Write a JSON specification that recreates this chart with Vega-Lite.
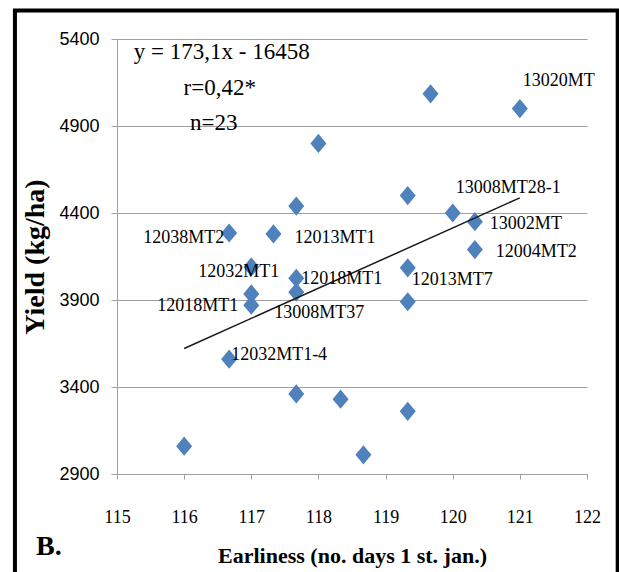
{
  "$schema": "https://vega.github.io/schema/vega-lite/v6.json",
  "width": 470,
  "height": 435,
  "autosize": {"type": "none"},
  "padding": {"left": 117, "top": 39, "right": 32, "bottom": 98},
  "background": "white",
  "config": {"view": {"stroke": null}},
  "title": {
    "text": "B.",
    "orient": "bottom",
    "anchor": "start",
    "frame": "group",
    "align": "left",
    "dx": -81,
    "offset": -47,
    "font": "Liberation Serif",
    "fontSize": 28,
    "fontWeight": "bold",
    "color": "black"
  },
  "datasets": {
    "pts": [
      {"days": 116, "yield": 3060, "label": ""},
      {"days": 117.67, "yield": 3360, "label": ""},
      {"days": 118.33, "yield": 3330, "label": ""},
      {"days": 118.67, "yield": 3010, "label": ""},
      {"days": 119.33, "yield": 3260, "label": ""},
      {"days": 117.67, "yield": 4440, "label": ""},
      {"days": 116.67, "yield": 4285, "label": "12038MT2"},
      {"days": 117.33, "yield": 4280, "label": "12013MT1"},
      {"days": 117, "yield": 4090, "label": "12032MT1"},
      {"days": 117, "yield": 3935, "label": ""},
      {"days": 117, "yield": 3870, "label": "12018MT1"},
      {"days": 117.67, "yield": 4025, "label": "12018MT1"},
      {"days": 117.67, "yield": 3945, "label": "13008MT37"},
      {"days": 116.67, "yield": 3560, "label": "12032MT1-4"},
      {"days": 119.33, "yield": 4500, "label": ""},
      {"days": 120, "yield": 4400, "label": "13008MT28-1"},
      {"days": 120.33, "yield": 4350, "label": "13002MT"},
      {"days": 120.33, "yield": 4190, "label": "12004MT2"},
      {"days": 119.33, "yield": 4085, "label": "12013MT7"},
      {"days": 119.33, "yield": 3890, "label": ""},
      {"days": 119.67, "yield": 5085, "label": ""},
      {"days": 121, "yield": 5000, "label": "13020MT"},
      {"days": 118, "yield": 4800, "label": ""}
    ],
    "trend": [
      {"days": 116, "yield": 3621.6},
      {"days": 121, "yield": 4487.1}
    ],
    "one": [{"k": 1}]
  },
  "layer": [
    {
      "data": {"name": "pts"},
      "mark": {"type": "point", "shape": "M0,-1.2L1,0L0,1.2L-1,0Z", "filled": true, "color": "#4F81BD", "opacity": 1, "size": 256},
      "encoding": {
        "x": {
          "field": "days",
          "type": "quantitative",
          "scale": {"domain": [115, 122], "nice": false, "zero": false},
          "axis": {
            "title": "Earliness (no. days 1 st. jan.)",
            "titleFont": "Liberation Serif",
            "titleFontSize": 22,
            "titleFontWeight": "bold",
            "titleColor": "black",
            "titleX": 235,
            "titleY": 81,
            "titleBaseline": "middle",
            "values": [115, 116, 117, 118, 119, 120, 121, 122],
            "format": "d",
            "grid": false,
            "domainColor": "#a0a0a0",
            "tickColor": "#a0a0a0",
            "tickSize": 5,
            "labelFont": "Liberation Serif",
            "labelFontSize": 18,
            "labelColor": "black",
            "labelPadding": 29,
            "labelFlush": false
          }
        },
        "y": {
          "field": "yield",
          "type": "quantitative",
          "scale": {"domain": [2900, 5400], "nice": false, "zero": false},
          "axis": {
            "title": "Yield (kg/ha)",
            "titleFont": "Liberation Serif",
            "titleFontSize": 28,
            "titleFontWeight": "bold",
            "titleColor": "black",
            "titleX": -82,
            "titleY": 217.5,
            "titleBaseline": "middle",
            "titleAlign": "center",
            "titleAngle": -90,
            "values": [2900, 3400, 3900, 4400, 4900, 5400],
            "format": "d",
            "grid": true,
            "gridColor": "#a0a0a0",
            "gridWidth": 1,
            "domainColor": "#a0a0a0",
            "tickColor": "#a0a0a0",
            "tickSize": 6,
            "labelFont": "Liberation Sans Narrow, Liberation Sans, sans-serif",
            "labelFontSize": 18,
            "labelColor": "black",
            "labelPadding": 12,
            "labelFlush": false
          }
        }
      }
    },
    {
      "data": {"name": "one"},
      "mark": {"type": "rect", "filled": false, "stroke": "black", "strokeWidth": 4, "clip": false},
      "encoding": {
        "x": {"datum": 113.48, "type": "quantitative"},
        "x2": {"datum": 122.457},
        "y": {"datum": 5564, "type": "quantitative"},
        "y2": {"datum": 2300}
      }
    },
    {
      "data": {"name": "trend"},
      "mark": {"type": "line", "color": "#1a1a1a", "strokeWidth": 1.5},
      "encoding": {
        "x": {"field": "days", "type": "quantitative"},
        "y": {"field": "yield", "type": "quantitative"}
      }
    },
    {
      "data": {"name": "one"},
      "mark": {"type": "text", "text": "y = 173,1x - 16458", "font": "Liberation Serif", "fontSize": 23, "color": "black", "align": "center", "baseline": "middle"},
      "encoding": {"x": {"datum": 116.56, "type": "quantitative"}, "y": {"datum": 5325, "type": "quantitative"}}
    },
    {
      "data": {"name": "one"},
      "mark": {"type": "text", "text": "r=0,42*", "font": "Liberation Serif", "fontSize": 23, "color": "black", "align": "center", "baseline": "middle"},
      "encoding": {"x": {"datum": 116.53, "type": "quantitative"}, "y": {"datum": 5118, "type": "quantitative"}}
    },
    {
      "data": {"name": "one"},
      "mark": {"type": "text", "text": "n=23", "font": "Liberation Serif", "fontSize": 23, "color": "black", "align": "center", "baseline": "middle"},
      "encoding": {"x": {"datum": 116.44, "type": "quantitative"}, "y": {"datum": 4917, "type": "quantitative"}}
    },
    {
      "data": {"name": "pts"},
      "transform": [{"filter": "datum.label === '13020MT'"}],
      "mark": {"type": "text", "align": "left", "baseline": "middle", "dx": 3, "dy": -28, "font": "Liberation Serif", "fontSize": 18, "color": "black"},
      "encoding": {"x": {"field": "days", "type": "quantitative"}, "y": {"field": "yield", "type": "quantitative"}, "text": {"field": "label"}}
    },
    {
      "data": {"name": "pts"},
      "transform": [{"filter": "datum.label === '13008MT28-1'"}],
      "mark": {"type": "text", "align": "left", "baseline": "middle", "dx": 3, "dy": -25, "font": "Liberation Serif", "fontSize": 18, "color": "black"},
      "encoding": {"x": {"field": "days", "type": "quantitative"}, "y": {"field": "yield", "type": "quantitative"}, "text": {"field": "label"}}
    },
    {
      "data": {"name": "pts"},
      "transform": [{"filter": "datum.label === '13002MT'"}],
      "mark": {"type": "text", "align": "left", "baseline": "middle", "dx": 15, "dy": 2, "font": "Liberation Serif", "fontSize": 18, "color": "black"},
      "encoding": {"x": {"field": "days", "type": "quantitative"}, "y": {"field": "yield", "type": "quantitative"}, "text": {"field": "label"}}
    },
    {
      "data": {"name": "pts"},
      "transform": [{"filter": "datum.label === '12004MT2'"}],
      "mark": {"type": "text", "align": "left", "baseline": "middle", "dx": 21, "dy": 2, "font": "Liberation Serif", "fontSize": 18, "color": "black"},
      "encoding": {"x": {"field": "days", "type": "quantitative"}, "y": {"field": "yield", "type": "quantitative"}, "text": {"field": "label"}}
    },
    {
      "data": {"name": "pts"},
      "transform": [{"filter": "datum.label === '12013MT7'"}],
      "mark": {"type": "text", "align": "left", "baseline": "middle", "dx": 4, "dy": 12, "font": "Liberation Serif", "fontSize": 18, "color": "black"},
      "encoding": {"x": {"field": "days", "type": "quantitative"}, "y": {"field": "yield", "type": "quantitative"}, "text": {"field": "label"}}
    },
    {
      "data": {"name": "pts"},
      "transform": [{"filter": "datum.label === '12038MT2'"}],
      "mark": {"type": "text", "align": "right", "baseline": "middle", "dx": -5, "dy": 5, "font": "Liberation Serif", "fontSize": 18, "color": "black"},
      "encoding": {"x": {"field": "days", "type": "quantitative"}, "y": {"field": "yield", "type": "quantitative"}, "text": {"field": "label"}}
    },
    {
      "data": {"name": "pts"},
      "transform": [{"filter": "datum.label === '12013MT1'"}],
      "mark": {"type": "text", "align": "left", "baseline": "middle", "dx": 21, "dy": 4, "font": "Liberation Serif", "fontSize": 18, "color": "black"},
      "encoding": {"x": {"field": "days", "type": "quantitative"}, "y": {"field": "yield", "type": "quantitative"}, "text": {"field": "label"}}
    },
    {
      "data": {"name": "pts"},
      "transform": [{"filter": "datum.label === '12032MT1'"}],
      "mark": {"type": "text", "align": "right", "baseline": "middle", "dx": 28, "dy": 5, "font": "Liberation Serif", "fontSize": 18, "color": "black"},
      "encoding": {"x": {"field": "days", "type": "quantitative"}, "y": {"field": "yield", "type": "quantitative"}, "text": {"field": "label"}}
    },
    {
      "data": {"name": "pts"},
      "transform": [{"filter": "datum.label === '12018MT1' && datum.days < 117.3"}],
      "mark": {"type": "text", "align": "right", "baseline": "middle", "dx": -13, "dy": 1, "font": "Liberation Serif", "fontSize": 18, "color": "black"},
      "encoding": {"x": {"field": "days", "type": "quantitative"}, "y": {"field": "yield", "type": "quantitative"}, "text": {"field": "label"}}
    },
    {
      "data": {"name": "pts"},
      "transform": [{"filter": "datum.label === '12018MT1' && datum.days > 117.3"}],
      "mark": {"type": "text", "align": "left", "baseline": "middle", "dx": 5, "dy": 1, "font": "Liberation Serif", "fontSize": 18, "color": "black"},
      "encoding": {"x": {"field": "days", "type": "quantitative"}, "y": {"field": "yield", "type": "quantitative"}, "text": {"field": "label"}}
    },
    {
      "data": {"name": "pts"},
      "transform": [{"filter": "datum.label === '13008MT37'"}],
      "mark": {"type": "text", "align": "left", "baseline": "middle", "dx": -22, "dy": 21, "font": "Liberation Serif", "fontSize": 18, "color": "black"},
      "encoding": {"x": {"field": "days", "type": "quantitative"}, "y": {"field": "yield", "type": "quantitative"}, "text": {"field": "label"}}
    },
    {
      "data": {"name": "pts"},
      "transform": [{"filter": "datum.label === '12032MT1-4'"}],
      "mark": {"type": "text", "align": "left", "baseline": "middle", "dx": 2, "dy": -4, "font": "Liberation Serif", "fontSize": 18, "color": "black"},
      "encoding": {"x": {"field": "days", "type": "quantitative"}, "y": {"field": "yield", "type": "quantitative"}, "text": {"field": "label"}}
    }
  ]
}
